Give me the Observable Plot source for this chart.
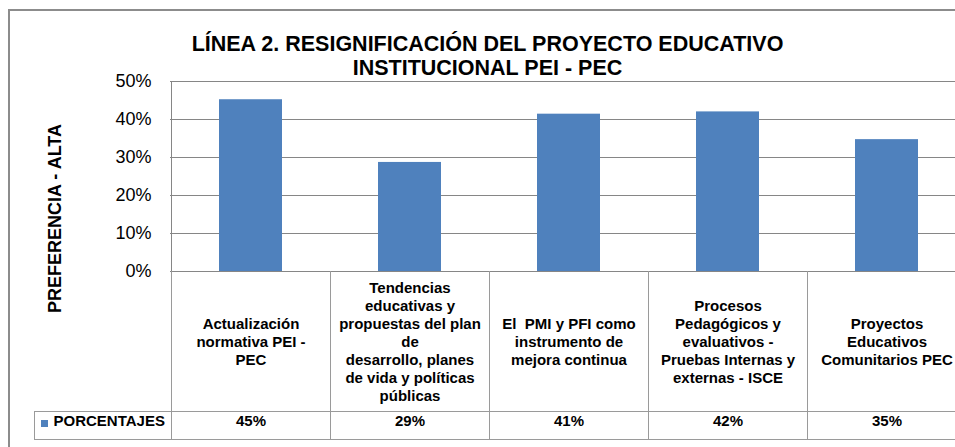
<!DOCTYPE html>
<html><head><meta charset="utf-8">
<script src="https://cdn.jsdelivr.net/npm/d3@7"></script>
<script src="https://cdn.jsdelivr.net/npm/@observablehq/plot@0.6"></script>
<style>
html,body{margin:0;padding:0;background:#fff;overflow:hidden;}
#wrap{position:relative;width:955px;height:447px;overflow:hidden;}
#chart{position:absolute;left:0;top:0;}
#frame{position:absolute;left:8px;top:9px;width:1000px;height:500px;border-top:2px solid #8c8c8c;border-left:2px solid #8c8c8c;pointer-events:none;}
</style></head><body>
<div id="wrap"><div id="chart"></div><div id="frame"></div></div>
<script>
const titleLines = ["LÍNEA 2. RESIGNIFICACIÓN DEL PROYECTO EDUCATIVO", "INSTITUCIONAL PEI - PEC"];
const yAxisTitle = "PREFERENCIA - ALTA";
const categories = [
  "Actualización\nnormativa PEI -\nPEC",
  "Tendencias\neducativas y\npropuestas del plan\nde\ndesarrollo, planes\nde vida y políticas\npúblicas",
  "El  PMI y PFI como\ninstrumento de\nmejora continua",
  "Procesos\nPedagógicos y\nevaluativos -\nPruebas Internas y\nexternas - ISCE",
  "Proyectos\nEducativos\nComunitarios PEC"
];
const values = [0.452, 0.287, 0.414, 0.420, 0.347];
const valueLabels = ["45%", "29%", "41%", "42%", "35%"];
const seriesName = "PORCENTAJES";
const yTicks = [0, 0.1, 0.2, 0.3, 0.4, 0.5];

const data = categories.map((c, i) => ({category: c, value: values[i], label: valueLabels[i]}));

const BAR = "#4f81bd";
const font = "'Liberation Sans', Arial, sans-serif";

function tableGrid(index, scales, vals, dims) {
  const x = scales.x, y = scales.y;
  const bw = x.bandwidth();
  const y0 = y(0);
  const headerH = 140, rowH = 28, labelLeft = 34;
  const right = x(categories[categories.length - 1]) + bw;
  const g = d3.create("svg:g");
  const lines = g.append("g").attr("stroke", "#9a9a9a").attr("fill", "none").attr("shape-rendering", "crispEdges");
  lines.append("line").attr("x1", x(categories[0])).attr("x2", x(categories[0])).attr("y1", y(0.5)).attr("y2", y0).attr("stroke", "#868686");
  for (const c of categories) {
    lines.append("line").attr("x1", x(c)).attr("x2", x(c)).attr("y1", y0).attr("y2", y0 + headerH + rowH);
  }
  lines.append("line").attr("x1", right).attr("x2", right).attr("y1", y0).attr("y2", y0 + headerH + rowH);
  lines.append("line").attr("x1", labelLeft).attr("x2", right).attr("y1", y0 + headerH).attr("y2", y0 + headerH);
  lines.append("line").attr("x1", labelLeft).attr("x2", right).attr("y1", y0 + headerH + rowH).attr("y2", y0 + headerH + rowH);
  lines.append("line").attr("x1", labelLeft).attr("x2", labelLeft).attr("y1", y0 + headerH).attr("y2", y0 + headerH + rowH);
  g.append("rect").attr("x", 41).attr("y", y0 + headerH + 9).attr("width", 7).attr("height", 7).attr("fill", BAR);
  return g.node();
}

const plot = Plot.plot({
  width: 955,
  height: 447,
  marginLeft: 170,
  marginRight: -11,
  marginTop: 81,
  marginBottom: 176,
  style: {fontFamily: font, background: "transparent", color: "#000", overflow: "visible"},
  x: {domain: categories, padding: 0, axis: null},
  y: {domain: [0, 0.5], axis: null},
  marks: [
    Plot.ruleY(yTicks, {stroke: "#868686", shapeRendering: "crispEdges"}),
    Plot.barY(data, {x: "category", y: "value", fill: BAR, insetLeft: 48, insetRight: 48}),
    Plot.axisY(yTicks, {tickFormat: d3.format(".0%"), tickSize: 0, tickPadding: 19, fontSize: 18, label: null}),
    tableGrid,
    Plot.text(data, {x: "category", text: "category", frameAnchor: "bottom", dy: 70, lineAnchor: "middle", lineHeight: 1.2, fontSize: 15, fontWeight: "bold", fill: "#000"}),
    Plot.text(data, {x: "category", text: "label", frameAnchor: "bottom", dy: 154, fontSize: 15, fontWeight: "bold", fill: "#000"}),
    Plot.text([seriesName], {frameAnchor: "bottom-left", dx: -117, dy: 154, textAnchor: "start", fontSize: 15, fontWeight: "bold", fill: "#000"}),
    Plot.text([yAxisTitle], {frameAnchor: "left", textAnchor: "middle", rotate: -90, dx: -115, dy: 42, fontSize: 18, fontWeight: "bold", fill: "#000"}),
    Plot.text([titleLines.join("\n")], {frameAnchor: "top", dx: -81, dy: -47, lineAnchor: "top", lineHeight: 1.1, fontSize: 21.5, fontWeight: "bold", fill: "#000"})
  ]
});
document.getElementById("chart").appendChild(plot);
</script>
</body></html>
